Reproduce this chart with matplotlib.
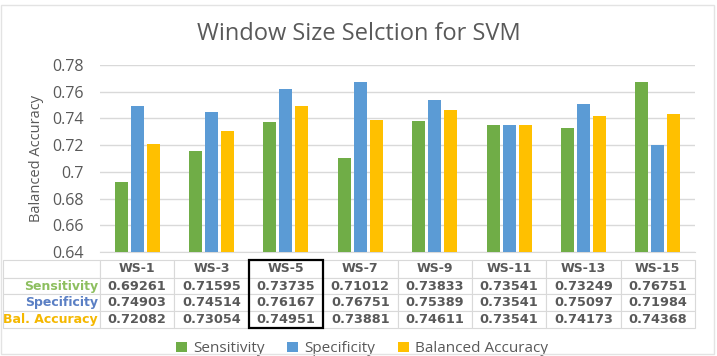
import numpy as np
import matplotlib.pyplot as plt
from matplotlib.table import Table
from matplotlib.patches import Rectangle
from matplotlib.ticker import FuncFormatter
import matplotlib.transforms as mtransforms

windows = ['WS-1', 'WS-3', 'WS-5', 'WS-7', 'WS-9', 'WS-11', 'WS-13', 'WS-15']
sensitivity = [0.69261, 0.71595, 0.73735, 0.71012, 0.73833, 0.73541, 0.73249, 0.76751]
specificity = [0.74903, 0.74514, 0.76167, 0.76751, 0.75389, 0.73541, 0.75097, 0.71984]
bal_accuracy = [0.72082, 0.73054, 0.74951, 0.73881, 0.74611, 0.73541, 0.74173, 0.74368]
series_names = ['Sensitivity', 'Specificity', 'Balanced Accuracy']
row_labels = ['Sensitivity', 'Specificity', 'Bal. Accuracy']
highlight = 'WS-5'

colors = ['#70AD47', '#5B9BD5', '#FFC000']
label_colors = ['#8DBF5F', '#5A7FC4', '#F5B800']
grid_c = '#D9D9D9'
text_c = '#595959'

plt.rcParams['font.family'] = ['Open Sans', 'DejaVu Sans']

fig = plt.figure(figsize=(7.17, 3.56), dpi=100)
ax = fig.add_axes([100 / 717, 1 - 252 / 356, 595 / 717, 187 / 356])

# outer chart frame
fig.patches.append(Rectangle((0.002, 0.005), 0.994, 0.982, transform=fig.transFigure,
                             fill=False, edgecolor='#E3E3E3', lw=1))

x = np.arange(len(windows))
w = 0.175
step = 0.215
all_series = [sensitivity, specificity, bal_accuracy]
for i, vals in enumerate(all_series):
    ax.bar(x + (i - 1) * step, vals, width=w, color=colors[i], label=series_names[i], zorder=3)

ax.set_xlim(-0.5, len(windows) - 0.5)
ax.set_ylim(0.64, 0.78)
ax.set_yticks(np.arange(0.64, 0.7801, 0.02))
ax.yaxis.set_major_formatter(FuncFormatter(lambda v, p: f"{round(v, 2):g}"))
ax.grid(axis='y', color=grid_c, lw=1, zorder=0)
ax.set_xticks([])
for s in ['top', 'right', 'left']:
    ax.spines[s].set_visible(False)
ax.spines['bottom'].set_color(grid_c)
ax.tick_params(axis='y', length=0, labelsize=11.5, labelcolor=text_c, pad=12)
ax.set_ylabel('Balanced Accuracy', fontsize=10.5, color=text_c, labelpad=6)

fig.text(0.5, 0.905, 'Window Size Selction for SVM', ha='center', va='center',
         fontsize=17, color=text_c)

# data table under the axis
lab_w = 97.0
col_w = 595.0 / len(windows)
total_w = lab_w + col_w * len(windows)
tbl = Table(ax, bbox=[-lab_w / 595, -76 / 187, total_w / 595, 68 / 187])
tbl.auto_set_font_size(False)
heights = [1.05, 1.0, 1.0, 1.0]

def add(r, c, txt, wd, color, weight='bold', loc='center', fs=9):
    cell = tbl.add_cell(r, c, width=wd, height=heights[r], text=txt, loc=loc,
                        facecolor='white', edgecolor=grid_c)
    cell.set_linewidth(0.8)
    t = cell.get_text()
    t.set_color(color)
    t.set_fontweight(weight)
    t.set_fontsize(fs)
    t.set_fontfamily('DejaVu Sans')
    return cell

add(0, 0, '', lab_w, text_c)
for j, name in enumerate(windows):
    add(0, j + 1, name, col_w, text_c)
for i, vals in enumerate(all_series):
    c = add(i + 1, 0, row_labels[i], lab_w, label_colors[i], loc='right', fs=9)
    c.PAD = 0.02
    for j, v in enumerate(vals):
        add(i + 1, j + 1, f"{v:.5f}", col_w, text_c, fs=9.3)
ax.add_table(tbl)

# highlight box around the chosen window
k = windows.index(highlight)
trans = mtransforms.blended_transform_factory(ax.transData, ax.transAxes)
ax.add_patch(Rectangle((k - 0.5, -76 / 187), 1.0, 68 / 187, transform=trans,
                       fill=False, edgecolor='black', lw=1.6, clip_on=False, zorder=10))

ax.legend(loc='upper center', bbox_to_anchor=(0.44, -0.405), ncol=3, frameon=False,
          fontsize=11, labelcolor=text_c, handlelength=0.7, handleheight=0.7,
          handletextpad=0.4, columnspacing=1.5)

fig.savefig('out.png', dpi=100)
